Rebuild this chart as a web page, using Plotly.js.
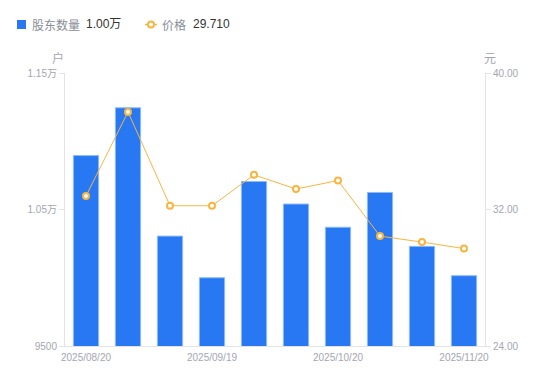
<!DOCTYPE html>
<html>
<head>
<meta charset="utf-8">
<script src="https://cdn.plot.ly/plotly-3.0.1.min.js"></script>
<style>html,body{margin:0;padding:0;background:#fff;}#chart{width:550px;height:381px;}</style>
</head>
<body>
<div id="chart"></div>
<script>
// Data
const dates = ["2025/08/20","2025/08/29","2025/09/10","2025/09/19","2025/09/30","2025/10/10","2025/10/20","2025/10/31","2025/11/10","2025/11/20"];
const holders = [10895, 11245, 10305, 10000, 10705, 10540, 10370, 10625, 10230, 10015];
const prices = [32.79, 37.72, 32.22, 32.22, 34.03, 33.20, 33.70, 30.44, 30.09, 29.71];
const xTickLabels = ["2025/08/20","2025/09/19","2025/10/20","2025/11/20"];
const leftTickVals = [9500, 10500, 11500];
const leftTickText = ["9500", "1.05万", "1.15万"];
const rightTickVals = [24, 32, 40];
const rightTickText = ["24.00", "32.00", "40.00"];

const W = 550, H = 381, L = 65, R = 65, T = 73, B = 35;
const pw = W - L - R, ph = H - T - B;
const px = v => (v - L) / pw;
const py = v => (H - B - v) / ph;

const fontFam = "Liberation Sans, Arial, Noto Sans CJK SC, sans-serif";
const barColor = "#2778f2";
const lineColor = "#f8b540";
const tickColor = "#a3a6b0";

const lastHolder = (holders[holders.length - 1] / 10000).toFixed(2) + "万";
const lastPrice = prices[prices.length - 1].toFixed(3);

const traces = [
  {
    type: "bar", x: dates, y: holders, name: "股东数量",
    marker: {color: barColor, line: {color: "#8dbaf7", width: 1}},
    hoverinfo: "skip"
  },
  {
    type: "scatter", mode: "lines+markers", x: dates, y: prices, yaxis: "y2", name: "价格",
    line: {color: lineColor, width: 1},
    marker: {color: "#ffffff", size: 6, symbol: "circle", line: {color: lineColor, width: 2}},
    hoverinfo: "skip"
  }
];

const layout = {
  width: W, height: H,
  margin: {l: L, r: R, t: T, b: B},
  paper_bgcolor: "#ffffff", plot_bgcolor: "#ffffff",
  showlegend: false,
  bargap: 0.4,
  font: {family: fontFam, size: 10, color: tickColor},
  xaxis: {
    type: "category", range: [-0.5, dates.length - 0.5], autorange: false,
    tickmode: "array", tickvals: xTickLabels, ticktext: xTickLabels,
    showgrid: false, zeroline: false, showline: true, linecolor: "#e3e3e3", linewidth: 1,
    ticks: "outside", ticklen: 2, tickcolor: "rgba(0,0,0,0)", tickfont: {size: 10, color: tickColor}, automargin: false
  },
  yaxis: {
    range: [9500, 11500], autorange: false, tickmode: "array", tickvals: leftTickVals, ticktext: leftTickText,
    showgrid: false, zeroline: false, showline: true, linecolor: "#e3e3e3", linewidth: 1,
    ticks: "outside", ticklen: 5, tickcolor: "#e3e3e3", tickfont: {size: 10, color: tickColor},
    automargin: false
  },
  yaxis2: {
    range: [24, 40], autorange: false, overlaying: "y", side: "right", tickmode: "array",
    tickvals: rightTickVals, ticktext: rightTickText,
    showgrid: false, zeroline: false, showline: true, linecolor: "#e3e3e3", linewidth: 1,
    ticks: "outside", ticklen: 5, tickcolor: "#e3e3e3", tickfont: {size: 10, color: tickColor},
    automargin: false
  },
  shapes: [
    {type: "rect", xref: "paper", yref: "paper", x0: px(17), x1: px(26), y0: py(29), y1: py(20),
     fillcolor: barColor, line: {width: 0}},
    {type: "line", xref: "paper", yref: "paper", x0: px(145), x1: px(157), y0: py(24.5), y1: py(24.5),
     line: {color: lineColor, width: 1.5}},
    {type: "circle", xref: "paper", yref: "paper", x0: px(148), x1: px(154), y0: py(27.5), y1: py(21.5),
     fillcolor: "#ffffff", line: {color: lineColor, width: 2}}
  ],
  annotations: [
    {xref: "paper", yref: "paper", x: px(30), y: py(24.5), xanchor: "left", yanchor: "middle",
     text: "股东数量", showarrow: false, font: {size: 12, color: "#8a8d99", family: "Noto Sans CJK SC, sans-serif"}},
    {xref: "paper", yref: "paper", x: px(84), y: py(24.5), xanchor: "left", yanchor: "middle",
     text: lastHolder, showarrow: false, font: {size: 12, color: "#333333", family: "Liberation Sans, Noto Sans CJK SC, sans-serif"}},
    {xref: "paper", yref: "paper", x: px(160), y: py(24.5), xanchor: "left", yanchor: "middle",
     text: "价格", showarrow: false, font: {size: 12, color: "#8a8d99", family: "Noto Sans CJK SC, sans-serif"}},
    {xref: "paper", yref: "paper", x: px(191), y: py(24.5), xanchor: "left", yanchor: "middle",
     text: lastPrice, showarrow: false, font: {size: 12, color: "#333333", family: "Liberation Sans, sans-serif"}},
    {xref: "paper", yref: "paper", x: px(58), y: py(57), xanchor: "center", yanchor: "middle",
     text: "户", showarrow: false, font: {size: 12, color: tickColor, family: "Noto Sans CJK SC, sans-serif"}},
    {xref: "paper", yref: "paper", x: px(490), y: py(57), xanchor: "center", yanchor: "middle",
     text: "元", showarrow: false, font: {size: 12, color: tickColor, family: "Noto Sans CJK SC, sans-serif"}}
  ]
};

Plotly.newPlot("chart", traces, layout, {staticPlot: true, displayModeBar: false});
</script>
</body>
</html>
